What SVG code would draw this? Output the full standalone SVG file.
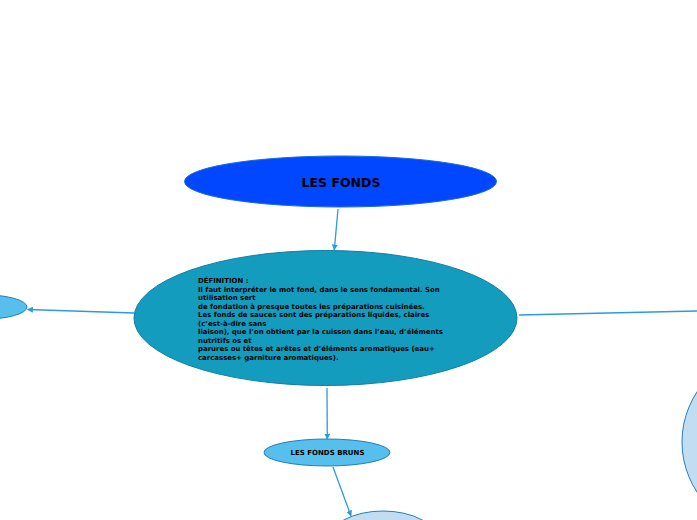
<svg xmlns="http://www.w3.org/2000/svg" width="697" height="520" viewBox="0 0 697 520">
<defs>
<style>
.conn{stroke:#2A9BE0;stroke-width:1.3;fill:none}
.lbl{font-family:"DejaVu Sans",Verdana,sans-serif;font-weight:bold;fill:#000}
.def{font-family:"DejaVu Sans",Verdana,sans-serif;font-weight:bold;font-size:6.95px;fill:#000}
</style>
<marker id="arr" viewBox="0 0 10 10" refX="9" refY="5" markerWidth="6" markerHeight="6" orient="auto" markerUnits="userSpaceOnUse">
<path d="M0,0 L10,5 L0,10 z" fill="#2A9BE0"/>
</marker>
</defs>
<rect width="697" height="520" fill="#fff"/>
<g id="connectors">
<line class="conn" x1="338" y1="209" x2="334.3" y2="250" marker-end="url(#arr)"/>
<line class="conn" x1="327" y1="388" x2="327.3" y2="439" marker-end="url(#arr)"/>
<line class="conn" x1="333" y1="467" x2="351" y2="516" marker-end="url(#arr)"/>
<line class="conn" x1="134" y1="313" x2="27.5" y2="309.5" marker-end="url(#arr)"/>
<line class="conn" x1="519" y1="315" x2="697" y2="311"/>
</g>
<g id="root">
<ellipse cx="340.5" cy="181.5" rx="156" ry="25.5" fill="#0047FF" stroke="#1E6BD8" stroke-width="1"/>
<text class="lbl" x="341" y="186.5" font-size="12.5" text-anchor="middle">LES FONDS</text>
</g>
<g id="definition">
<ellipse cx="325.5" cy="318" rx="191.5" ry="67.5" fill="#139CBE" stroke="#0E7FA6" stroke-width="1"/>
<text class="def" x="198">
<tspan x="198" y="283">DÉFINITION :</tspan>
<tspan x="198" y="291.5">Il faut interpréter le mot fond, dans le sens fondamental. Son</tspan>
<tspan x="198" y="300">utilisation sert</tspan>
<tspan x="198" y="308.5">de fondation à presque toutes les préparations cuisinées.</tspan>
<tspan x="198" y="317">Les fonds de sauces sont des préparations liquides, claires</tspan>
<tspan x="198" y="325.5">(c’est-à-dire sans</tspan>
<tspan x="198" y="334">liaison), que l’on obtient par la cuisson dans l’eau, d’éléments</tspan>
<tspan x="198" y="342.5">nutritifs os et</tspan>
<tspan x="198" y="351">parures ou têtes et arêtes et d’éléments aromatiques (eau+</tspan>
<tspan x="198" y="359.5">carcasses+ garniture aromatiques).</tspan>
</text>
</g>
<g id="left-node">
<ellipse cx="-20" cy="307" rx="47" ry="12.5" fill="#56BFEC" stroke="#1F7FC0" stroke-width="1"/>
</g>
<g id="fonds-bruns">
<ellipse cx="327" cy="452.5" rx="63" ry="13.5" fill="#56BFEC" stroke="#1F7FC0" stroke-width="1"/>
<text class="lbl" x="327.5" y="455" font-size="7" text-anchor="middle">LES FONDS BRUNS</text>
</g>
<g id="bottom-node">
<ellipse cx="383" cy="541" rx="55" ry="30" fill="#C2DDF2" stroke="#1F7FC0" stroke-width="1"/>
</g>
<g id="right-node">
<ellipse cx="773" cy="442" rx="91" ry="91" fill="#C2DDF2" stroke="#1F7FC0" stroke-width="1"/>
</g>
</svg>
